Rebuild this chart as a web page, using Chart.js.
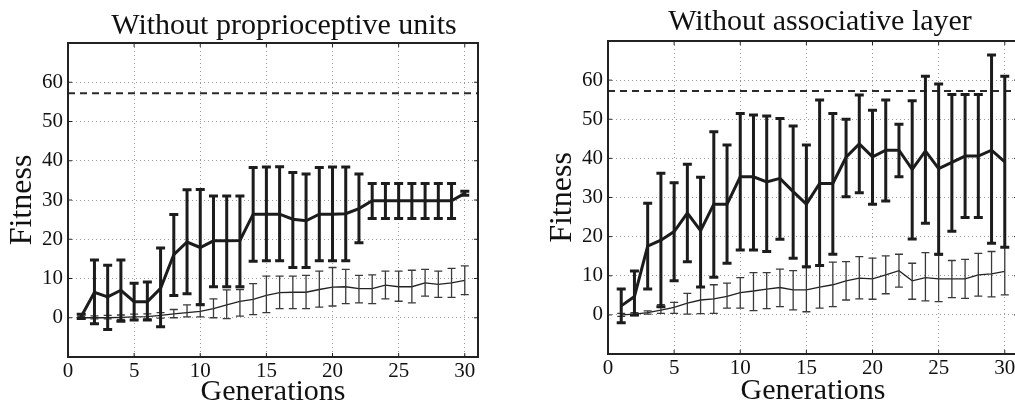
<!DOCTYPE html>
<html>
<head>
  <meta charset="UTF-8">
  <title>Fitness over generations</title>
  <script src="https://cdn.jsdelivr.net/npm/chart.js@4.4.0/dist/chart.umd.min.js"></script>
  <style>
    body { margin: 0; width: 1015px; height: 410px; overflow: hidden; background: #fff; position: relative; }
    .panel { position: absolute; top: 0; height: 410px; }
  </style>
</head>
<body>
  <div class="panel" style="left:0;width:568px"><canvas id="left"></canvas></div>
  <div class="panel" style="left:540px;width:560px"><canvas id="right"></canvas></div>

  <script>
    var generations = [1, 2, 3, 4, 5, 6, 7, 8, 9, 10, 11, 12, 13, 14, 15, 16, 17, 18, 19, 20, 21, 22, 23, 24, 25, 26, 27, 28, 29, 30];
    var xTicks = [0, 5, 10, 15, 20, 25, 30];
    var yTicks = [0, 10, 20, 30, 40, 50, 60];
    var targetX = [0, 31];
    var targetFitness = [57.2, 57.2];

    // without proprioceptive units
    var leftBest   = [0.3, 6.5, 5.3, 7.0, 4.1, 4.1, 7.5, 16.1, 19.3, 17.9, 19.6, 19.6, 19.7, 26.4, 26.4, 26.4, 25.1, 24.7, 26.4, 26.4, 26.5, 27.8, 29.8, 29.8, 29.8, 29.8, 29.8, 29.8, 29.8, 31.7];
    var leftBestHi = [0.9, 14.7, 13.4, 14.7, 8.8, 9.1, 17.8, 26.3, 32.6, 32.7, 31.0, 31.0, 31.0, 38.3, 38.4, 38.5, 37.0, 36.6, 38.3, 38.4, 38.4, 36.6, 34.2, 34.2, 34.2, 34.2, 34.2, 34.2, 34.2, 32.2];
    var leftBestLo = [-0.2, -1.5, -3.0, -0.9, -0.6, -0.6, -2.3, 5.7, 6.1, 3.3, 7.9, 7.9, 7.9, 14.4, 14.5, 14.5, 12.8, 12.8, 14.5, 14.5, 14.5, 19.1, 25.3, 25.3, 25.3, 25.3, 25.3, 25.3, 25.3, 31.2];
    var leftMean   = [0, 0, 0, 0.1, 0.2, 0.3, 0.6, 1.0, 1.3, 1.6, 2.3, 3.3, 4.2, 4.7, 5.7, 6.4, 6.5, 6.5, 7.2, 7.8, 7.9, 7.4, 7.4, 8.3, 7.9, 7.9, 8.9, 8.5, 8.9, 9.5];
    var leftMeanHi = [0.3, 0.5, 0.6, 0.7, 0.9, 1.0, 1.3, 2.1, 3.3, 3.5, 4.8, 7.1, 7.2, 8.7, 10.6, 10.6, 10.6, 10.8, 11.9, 12.8, 12.3, 10.8, 10.9, 11.9, 11.9, 12.1, 12.3, 11.9, 12.6, 13.2];
    var leftMeanLo = [-0.3, -0.3, -0.3, -0.4, -0.4, -0.3, -0.1, 0, 0.2, 0.2, 0, -0.2, 0.4, 0.8, 1.3, 2.3, 2.3, 2.3, 2.7, 3.0, 3.6, 3.8, 3.6, 4.8, 4.2, 3.8, 5.5, 5.2, 5.2, 5.9];

    // without associative layer
    var rightBest   = [2.3, 4.7, 17.6, 19.1, 21.3, 26.0, 21.5, 28.3, 28.3, 35.3, 35.3, 34.0, 34.9, 31.5, 28.3, 33.6, 33.6, 40.3, 43.7, 40.4, 42.1, 42.1, 37.2, 41.9, 37.4, 39.0, 40.6, 40.6, 42.1, 39.1];
    var rightBestHi = [6.6, 11.2, 28.5, 36.2, 33.8, 38.5, 35.2, 46.8, 43.4, 51.5, 51.1, 50.8, 50.2, 48.3, 43.4, 54.9, 51.5, 50.0, 56.2, 52.3, 54.9, 48.7, 54.7, 61.0, 59.0, 56.3, 56.3, 56.3, 66.4, 61.0];
    var rightBestLo = [-2.0, 0, 6.6, 2.1, 8.7, 13.6, 7.1, 9.6, 13.2, 16.6, 16.6, 16.2, 19.3, 14.5, 12.3, 12.6, 15.5, 30.2, 31.2, 28.3, 29.1, 35.3, 19.4, 23.4, 15.5, 21.4, 24.9, 24.9, 18.3, 17.3];
    var rightMean   = [0, 0.2, 0.6, 1.2, 1.9, 3.0, 3.8, 4.1, 4.7, 5.7, 6.1, 6.6, 7.0, 6.4, 6.4, 7.1, 7.7, 8.7, 9.4, 9.2, 10.2, 11.3, 8.7, 9.5, 9.2, 9.2, 9.2, 10.2, 10.5, 11.1];
    var rightMeanHi = [0.4, 0.6, 1.0, 2.6, 3.2, 5.5, 7.1, 7.7, 8.1, 9.5, 10.8, 10.8, 11.7, 11.3, 12.1, 12.7, 13.5, 13.6, 14.9, 14.5, 15.1, 15.5, 13.2, 15.9, 15.3, 13.9, 14.2, 15.7, 16.2, 17.4];
    var rightMeanLo = [-0.4, -0.2, 0.2, 0.4, 0.4, 0.2, 0.3, 0.4, 1.7, 1.7, 1.1, 1.6, 2.1, 1.3, 0.8, 1.7, 2.1, 3.8, 4.1, 4.0, 5.4, 7.1, 4.0, 3.6, 3.4, 4.4, 4.2, 4.8, 4.6, 5.1];

    var serif = "'Liberation Serif', 'Times New Roman', serif";

    function toPoints(xs, ys) {
      var pts = [];
      for (var i = 0; i < xs.length; i++) pts.push({ x: xs[i], y: ys[i] });
      return pts;
    }

    // vertical error bars with caps, drawn through the chart scales
    var errorBars = {
      id: 'errorBars',
      afterDatasetsDraw: function (chart) {
        var ctx = chart.ctx, xs = chart.scales.x, ys = chart.scales.y;
        var sets = chart.data.datasets.slice().reverse();
        sets.forEach(function (ds) {
          if (!ds.errHi) return;
          ctx.save();
          ctx.strokeStyle = ds.errColor;
          ctx.lineWidth = ds.errWidth;
          ctx.lineCap = 'butt';
          ds.data.forEach(function (p, i) {
            var x = xs.getPixelForValue(p.x);
            var hi = ys.getPixelForValue(ds.errHi[i]);
            var lo = ys.getPixelForValue(ds.errLo[i]);
            var c = ds.capHalf;
            ctx.beginPath();
            ctx.moveTo(x, hi); ctx.lineTo(x, lo);
            ctx.moveTo(x - c, hi); ctx.lineTo(x + c, hi);
            ctx.moveTo(x - c, lo); ctx.lineTo(x + c, lo);
            ctx.stroke();
          });
          ctx.restore();
        });
      }
    };

    // matlab style box with small inward ticks
    var frame = {
      id: 'frame',
      afterDraw: function (chart) {
        var a = chart.chartArea, ctx = chart.ctx;
        var xs = chart.scales.x, ys = chart.scales.y;
        ctx.save();
        ctx.strokeStyle = '#222';
        ctx.lineWidth = 1;
        ctx.beginPath();
        xs.ticks.forEach(function (t) {
          var x = xs.getPixelForValue(t.value);
          ctx.moveTo(x, a.bottom); ctx.lineTo(x, a.bottom - 4);
          ctx.moveTo(x, a.top); ctx.lineTo(x, a.top + 4);
        });
        ys.ticks.forEach(function (t) {
          var y = ys.getPixelForValue(t.value);
          ctx.moveTo(a.left, y); ctx.lineTo(a.left + 4, y);
          ctx.moveTo(a.right, y); ctx.lineTo(a.right - 4, y);
        });
        ctx.stroke();
        ctx.lineWidth = 2;
        ctx.strokeRect(a.left, a.top, a.right - a.left, a.bottom - a.top);
        ctx.restore();
      }
    };

    function makeChart(id, title, best, bestHi, bestLo, mean, meanHi, meanLo, g) {
      return new Chart(id, {
        type: 'line',
        data: {
          datasets: [
            {
              data: toPoints(targetX, targetFitness),
              borderColor: '#2a2a2a', borderWidth: 2, borderDash: [7, 5],
              pointRadius: 0
            },
            {
              data: toPoints(generations, best),
              borderColor: '#1c1c1c', borderWidth: 3, pointRadius: 0,
              errHi: bestHi, errLo: bestLo, errColor: '#1c1c1c', errWidth: 3, capHalf: 4.5
            },
            {
              data: toPoints(generations, mean),
              borderColor: '#222', borderWidth: 1.3, pointRadius: 0,
              errHi: meanHi, errLo: meanLo, errColor: '#3a3a3a', errWidth: 1.3, capHalf: 4
            }
          ]
        },
        options: {
          responsive: true,
          maintainAspectRatio: false,
          animation: false,
          layout: { padding: 0 },
          plugins: {
            legend: { display: false },
            tooltip: { enabled: false },
            title: {
              display: true, text: title, color: '#111',
              font: { family: serif, size: 30, weight: 'normal', lineHeight: 1.0 },
              padding: { top: g.titleTop, bottom: g.titleBottom }
            }
          },
          scales: {
            x: {
              type: 'linear', min: 0, max: 31,
              afterBuildTicks: function (s) { s.ticks = xTicks.map(function (v) { return { value: v }; }); },
              afterFit: function (s) { s.height = g.xHeight; },
              grid: { color: '#9a9a9a', lineWidth: 1, drawTicks: false },
              border: { display: false, dash: [1, 3] },
              ticks: { color: '#111', padding: g.xTickPad, maxRotation: 0, autoSkip: false, font: { family: serif, size: 21 } },
              title: {
                display: true, text: 'Generations', color: '#111',
                font: { family: serif, size: 30, lineHeight: 1.2 },
                padding: { top: 0, bottom: g.xTitlePad }
              }
            },
            y: {
              min: -10, max: 70,
              afterBuildTicks: function (s) { s.ticks = yTicks.map(function (v) { return { value: v }; }); },
              afterFit: function (s) { s.width = 68; },
              grid: { color: '#9a9a9a', lineWidth: 1, drawTicks: false },
              border: { display: false, dash: [1, 3] },
              ticks: { color: '#111', padding: 5, font: { family: serif, size: 21 } },
              title: {
                display: true, text: 'Fitness', color: '#111',
                font: { family: serif, size: 32, lineHeight: 1.2 },
                padding: { top: 3, bottom: 0 }
              }
            },
            // empty right-hand axis, only reserves room so the title centres like the original
            spacer: {
              type: 'linear', position: 'right', min: 0, max: 1,
              afterFit: function (s) { s.width = g.padRight; },
              grid: { display: false, drawTicks: false },
              border: { display: false },
              ticks: { display: false }
            }
          }
        },
        plugins: [errorBars, frame]
      });
    }

    makeChart('left', 'Without proprioceptive units',
      leftBest, leftBestHi, leftBestLo, leftMean, leftMeanHi, leftMeanLo,
      { padRight: 90, titleTop: 11, titleBottom: 2, xHeight: 53, xTickPad: 2, xTitlePad: 0 });

    makeChart('right', 'Without associative layer',
      rightBest, rightBestHi, rightBestLo, rightMean, rightMeanHi, rightMeanLo,
      { padRight: 82, titleTop: 7.5, titleBottom: 3.5, xHeight: 56, xTickPad: 1.5, xTitlePad: 1 });
  </script>
</body>
</html>
